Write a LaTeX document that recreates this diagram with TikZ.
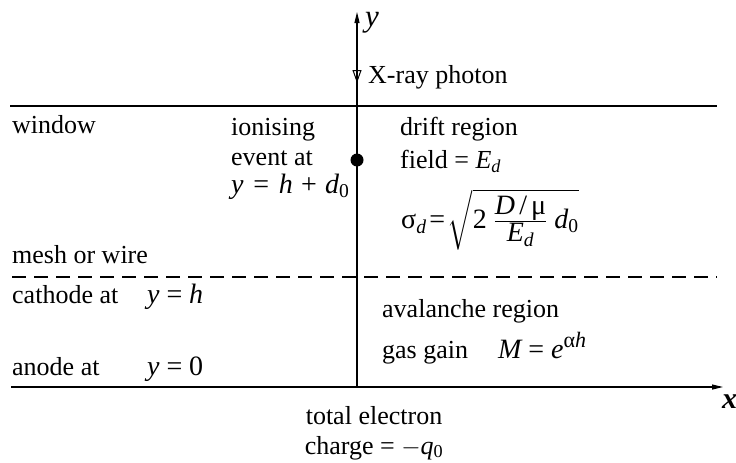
\documentclass[tikz,border=0pt]{standalone}
\usepackage{amsmath}
\usepackage{fontspec}
\setmainfont{Liberation Serif}
\usepackage{tikz}
\usetikzlibrary{arrows.meta,positioning}
\newcommand\mv[1]{\textit{#1}}
\newcommand\tx[1]{\text{#1}}
\newcommand\eq{\mathrel{\text{=}}}
\newcommand\pl{\mathbin{\text{+}}}

\begin{document}
\begin{tikzpicture}[x=1pt, y=-1pt,
  lbl/.style={anchor=base west, inner sep=0pt, font=\fontsize{26}{30}\selectfont},
  mth/.style={anchor=base west, inner sep=0pt, font=\fontsize{28}{32}\selectfont},
  ctr/.style={anchor=base, inner sep=0pt, font=\fontsize{26}{30}\selectfont},
  axis/.style={line width=1.2pt, -{Triangle[length=11pt,width=5pt]}},
  plate/.style={line width=1.2pt},
  mesh/.style={line width=1.2pt, dash pattern=on 14pt off 8pt},
  photon/.style={line width=1.2pt, -{Triangle[open,length=13pt,width=9pt,line width=1pt]}},
  dot/.style={circle, fill=black, inner sep=0pt, minimum size=13pt}
]
  \useasboundingbox (0,0) rectangle (736,463);

  \coordinate (origin) at (357,387);
  \coordinate (ytip) at (357,12);
  \coordinate (xstart) at (11,387);
  \coordinate (xtip) at (723,387);
  \coordinate (winL) at (10,106);
  \coordinate (winR) at (717,106);
  \coordinate (meshL) at (12,277);
  \coordinate (meshR) at (717,277);
  \coordinate (photonA) at (357,45);
  \coordinate (photonB) at (357,83);

  \draw[plate] (winL) -- (winR);
  \draw[mesh] (meshL) -- (meshR);
  \draw[axis] (origin) -- (ytip);
  \draw[axis] (xstart) -- (xtip);
  \draw[photon] (photonA) -- (photonB);
  \node[dot] (event) at (357,160) {};

  \node[lbl, font=\fontsize{31}{34}\selectfont] (ylab) at (365,27) {\textit{y}};
  \node[lbl, font=\fontsize{30}{34}\selectfont\bfseries] (xlab) at (722,408) {\textit{x}};
  \node[lbl] (xray) at (368,83) {X-ray photon};

  \node[lbl] (window) at (12,133) {window};
  \node[lbl] (ionise) at (231,135) {ionising};
  \node[lbl] (eventat) at (231,165) {event at};
  \node[mth] (eventy) at (231,193) {$\mv{y} \mskip2mu\eq\mskip2mu \mv{h} \mskip2mu\pl\mskip2mu \mv{d}_{\tx{0}}$};

  \node[lbl] (drift) at (400,135) {drift region};
  \node[lbl] (field) at (400,168) {field = \mv{E}$_{\mv{d}}$};
  \node[mth] (sigma) at (401,228) {$\tx{σ}_{\mv{d}}\!\eq\!\sqrt{\tx{2}\;\frac{\displaystyle\mv{D}\,\tx{/}\,\tx{μ}}{\displaystyle\mv{E}_{\mv{d}}}\;\mv{d}_{\tx{0}}}$};

  \node[lbl] (meshlab) at (12,263) {mesh or wire};
  \node[lbl] (cathode) at (12,303) {cathode at};
  \node[mth] (cathodey) at (147,303) {$\mv{y} \eq \mv{h}$};
  \node[lbl] (anode) at (12,375) {anode at};
  \node[mth] (anodey) at (147,375) {$\mv{y} \eq \tx{0}$};

  \node[lbl] (aval) at (382,317) {avalanche region};
  \node[lbl] (gain) at (382,358) {gas gain};
  \node[mth] (gainM) at (498,358) {$\mv{M} \eq \mv{e}$\raisebox{11pt}{\fontsize{22}{24}\selectfont α\textit{h}}};

  \node[ctr] (total) at (374,424) {total electron};
  \node[ctr] (charge) at (374,454) {charge = $-$\mv{q}$_{\tx{0}}$};
\end{tikzpicture}
\end{document}
